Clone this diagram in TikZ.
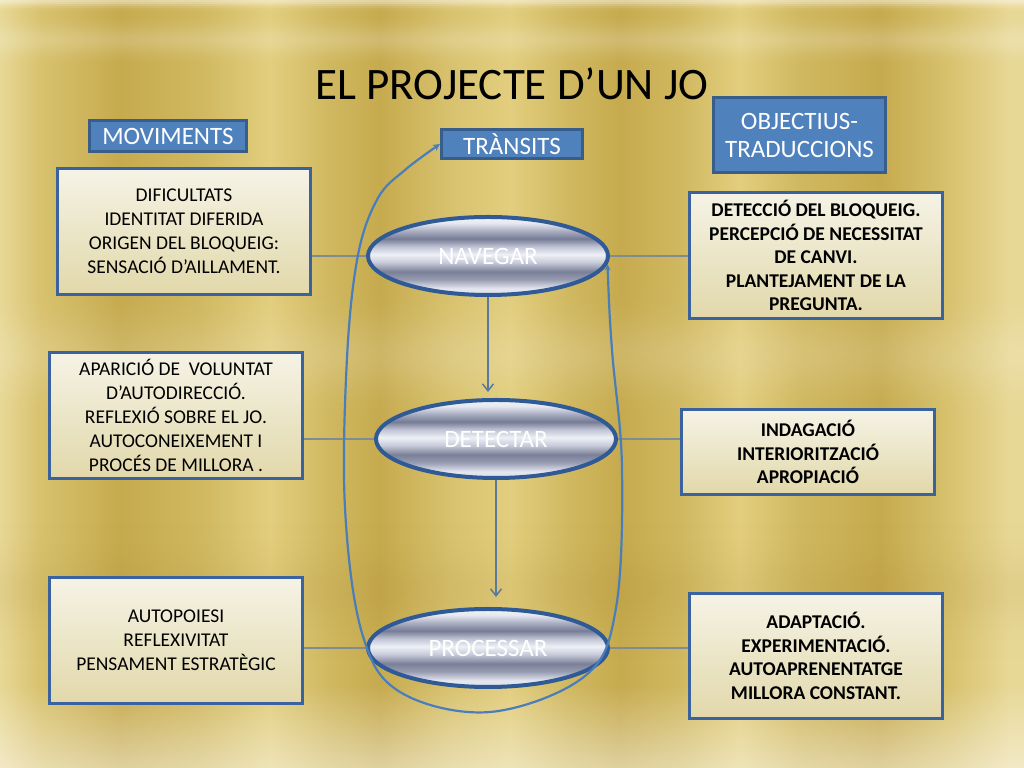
\documentclass[tikz,border=0pt]{standalone}
\usepackage{fontspec}
\setmainfont{Carlito}
\usetikzlibrary{arrows.meta,shapes.geometric}

\definecolor{hdrblue}{RGB}{79,129,189}
\definecolor{hdrborder}{RGB}{56,93,138}
\definecolor{boxborder}{RGB}{58,98,158}
\definecolor{boxtop}{RGB}{245,243,230}
\definecolor{boxbot}{RGB}{226,216,170}
\definecolor{ellborder}{RGB}{47,90,150}
\definecolor{loopblue}{RGB}{74,126,187}
\definecolor{linegray}{RGB}{128,140,148}
\definecolor{arrowblue}{RGB}{88,122,160}
\definecolor{darkgold}{RGB}{140,100,20}

\definecolor{gA}{RGB}{232,216,150}
\definecolor{gB}{RGB}{216,194,110}
\definecolor{gC}{RGB}{198,170,78}
\definecolor{gD}{RGB}{208,184,96}
\definecolor{gE}{RGB}{226,206,126}

\pgfdeclarehorizontalshading{goldstripes}{100bp}{
 color(0bp)=(gA); color(25bp)=(gA); color(26.95bp)=(gB); color(30.86bp)=(gC);
 color(34.77bp)=(gD); color(38.18bp)=(gE); color(41.11bp)=(gD); color(43.55bp)=(gC);
 color(46.97bp)=(gB); color(49.9bp)=(gE); color(52.83bp)=(gD); color(55.27bp)=(gC);
 color(58.2bp)=(gD); color(61.13bp)=(gE); color(64.06bp)=(gD); color(67.97bp)=(gC);
 color(71.39bp)=(gB); color(74.32bp)=(gA); color(75bp)=(gA); color(100bp)=(gA)}

\definecolor{mA}{RGB}{215,219,231}
\definecolor{mB}{RGB}{230,232,240}
\definecolor{mC}{RGB}{150,155,177}
\definecolor{mD}{RGB}{122,128,152}
\definecolor{mE}{RGB}{200,203,218}
\definecolor{mF}{RGB}{238,240,246}
\definecolor{mG}{RGB}{192,196,212}
\definecolor{mH}{RGB}{118,124,150}
\definecolor{mI}{RGB}{168,173,193}
\definecolor{mJ}{RGB}{242,244,249}

\pgfdeclareverticalshading{metal}{100bp}{
 color(0bp)=(mA); color(25bp)=(mA); color(29bp)=(mB); color(35bp)=(mC);
 color(40bp)=(mD); color(46bp)=(mE); color(51bp)=(mF); color(56bp)=(mG);
 color(61bp)=(mH); color(66bp)=(mI); color(71bp)=(mB); color(75bp)=(mJ); color(100bp)=(mJ)}

\tikzset{
  hdr/.style={rectangle, fill=hdrblue, draw=hdrborder, line width=3bp, text=white,
    inner sep=0pt, align=center, font=\fontsize{25bp}{28bp}\selectfont},
  txtbox/.style={rectangle, draw=boxborder, line width=3bp, top color=boxtop, bottom color=boxbot,
    minimum width=253bp, minimum height=126bp, inner sep=0pt, align=center, text=black,
    font=\fontsize{19.5bp}{24bp}\selectfont},
  boldbox/.style={txtbox, font=\fontsize{19.5bp}{23.5bp}\selectfont\bfseries},
  ell/.style={ellipse, draw=ellborder, line width=4bp, shading=metal, text=white,
    minimum width=240bp, minimum height=78bp, inner sep=0pt,
    font=\fontsize{25bp}{28bp}\selectfont},
  hline/.style={draw=linegray, line width=1.5bp},
  varrow/.style={draw=arrowblue, line width=1.5bp, -{Straight Barb[length=7bp,width=11bp]}},
  loopline/.style={draw=loopblue, line width=2.2bp}
}

\begin{document}
\begin{tikzpicture}[x=1bp,y=1bp]
\useasboundingbox (0,0) rectangle (1024,768);
% background
\shade[shading=goldstripes] (0,0) rectangle (1024,768);
\foreach \i in {0,...,383} {
  \pgfmathsetmacro\yy{2*\i+1}
  \pgfmathsetmacro\aa{min(\yy/6,4)}
  \pgfmathsetmacro\ab{min(abs(\yy-40)/14,4)}
  \pgfmathsetmacro\ac{min(abs(\yy-355)/35,4)}
  \pgfmathsetmacro\ad{min(abs(\yy-590)/35,4)}
  \pgfmathsetmacro\ow{0.5*exp(-\aa*\aa)+0.18*exp(-\ab*\ab)+0.14*exp(-\ac*\ac)+0.45*max(0,(\yy-685)/83)}
  \pgfmathsetmacro\od{0.08*exp(-\ad*\ad)}
  \fill[white,opacity=\ow] (0,768-2*\i) rectangle (1024,766-2*\i);
  \fill[darkgold,opacity=\od] (0,768-2*\i) rectangle (1024,766-2*\i);
}

% title
\node[anchor=base, font=\fontsize{45bp}{50bp}\selectfont, text=black] (title) at (512,668) {EL PROJECTE D’UN JO};

% headers
\node[hdr, minimum width=157bp, minimum height=31bp] (MOV) at (168,632) {MOVIMENTS};
\node[hdr, minimum width=141bp, minimum height=29bp] (TRA) at (512,624) {TRÀNSITS};
\node[hdr, minimum width=172bp, minimum height=75bp] (OBJ) at (799.5,633) {OBJECTIUS-\\TRADUCCIONS};

% left boxes
\node[txtbox] (L1) at (184,536.5) {DIFICULTATS\\IDENTITAT DIFERIDA\\ORIGEN DEL BLOQUEIG:\\SENSACIÓ D’AILLAMENT.};
\node[txtbox] (L2) at (176,352.5) {APARICIÓ DE~ VOLUNTAT\\D’AUTODIRECCIÓ.\\REFLEXIÓ SOBRE EL JO.\\AUTOCONEIXEMENT I\\PROCÉS DE MILLORA .};
\node[txtbox] (L3) at (176,127.5) {AUTOPOIESI\\REFLEXIVITAT\\PENSAMENT ESTRATÈGIC};

% right boxes
\node[boldbox] (R1) at (816,512.5) {DETECCIÓ DEL BLOQUEIG.\\PERCEPCIÓ DE NECESSITAT\\DE CANVI.\\PLANTEJAMENT DE LA\\PREGUNTA.};
\node[boldbox, minimum height=85bp] (R2) at (808,316) {INDAGACIÓ\\INTERIORITZACIÓ\\APROPIACIÓ};
\node[boldbox, minimum height=125bp] (R3) at (816,112) {ADAPTACIÓ.\\EXPERIMENTACIÓ.\\AUTOAPRENENTATGE\\MILLORA CONSTANT.};

% ellipses
\node[ell] (NAV) at (488,512) {NAVEGAR};
\node[ell] (DET) at (496,329) {DETECTAR};
\node[ell] (PRO) at (488,120) {PROCESSAR};

% horizontal connectors
\draw[hline] (NAV.west) -- (NAV.west -| L1.east);
\draw[hline] (NAV.east) -- (NAV.east -| R1.west);
\draw[hline] (DET.west) -- (DET.west -| L2.east);
\draw[hline] (DET.east) -- (DET.east -| R2.west);
\draw[hline] (PRO.west) -- (PRO.west -| L3.east);
\draw[hline] (PRO.east) -- (PRO.east -| R3.west);

% vertical arrows
\draw[varrow, shorten >=6bp] (NAV.south) -- (NAV.south |- DET.north);
\draw[varrow, shorten >=10bp] (DET.south) -- (DET.south |- PRO.north);

% loop
\draw[loopline, {Stealth[length=6bp,width=6bp]}-{Stealth[length=7bp,width=7bp]}]
  plot[smooth, tension=0.6] coordinates {(NAV.-4) (612,418) (622,300) (616,160)
  (585,92) (490,56) (400,76) (362,135) (345,260) (347,410) (358,513)
  (378,570) (405,598) (TRA.west)};
\end{tikzpicture}
\end{document}
